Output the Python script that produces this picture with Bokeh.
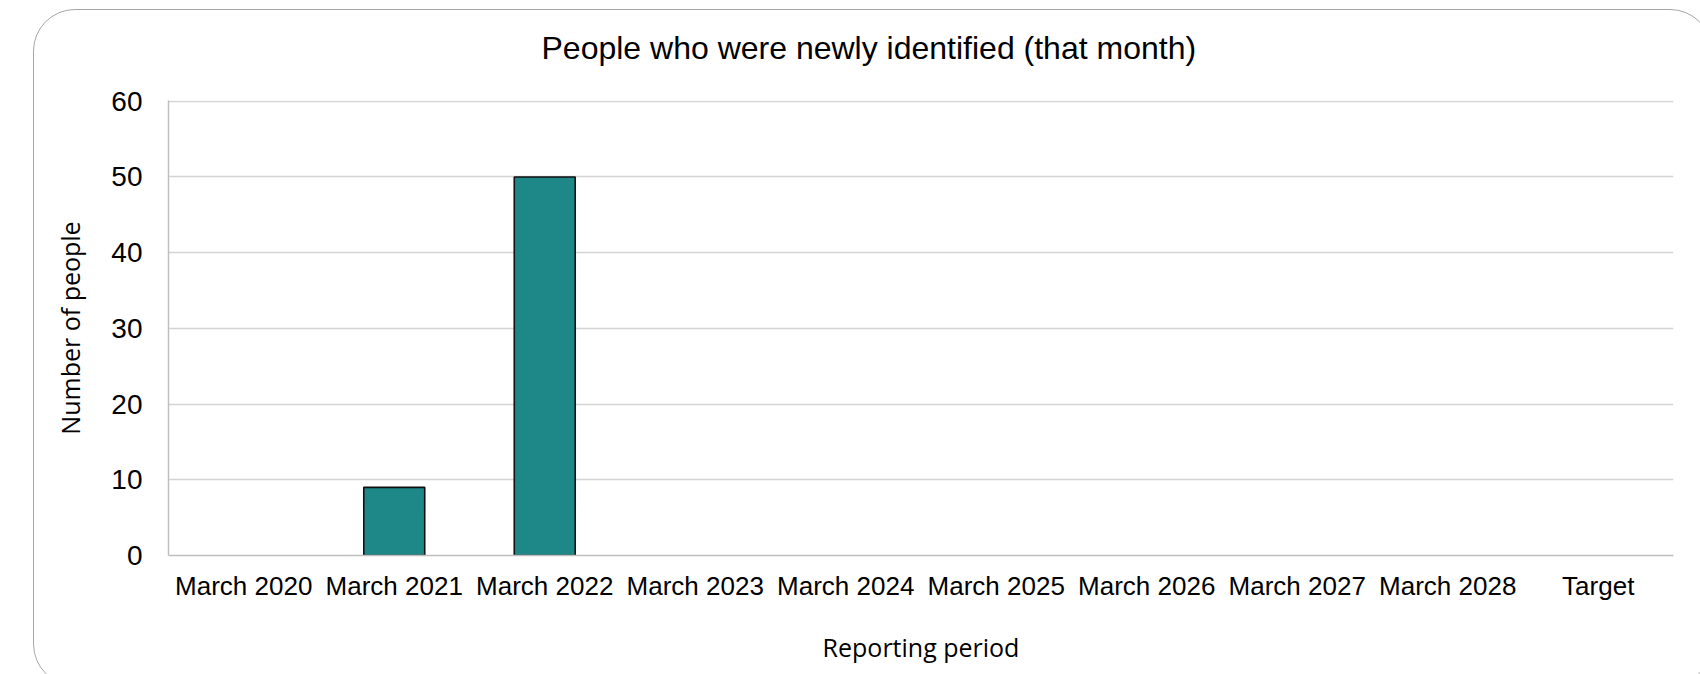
from bokeh.plotting import figure
from bokeh.models import Range1d, FactorRange, FixedTicker, Title, ColumnDataSource, InlineStyleSheet
from bokeh.embed import file_html
from bokeh.resources import INLINE

categories = ["March 2020", "March 2021", "March 2022", "March 2023", "March 2024",
              "March 2025", "March 2026", "March 2027", "March 2028", "Target"]
values = [float("nan"), 9, 50, float("nan"), float("nan"),
          float("nan"), float("nan"), float("nan"), float("nan"), float("nan")]
yticks = [0, 10, 20, 30, 40, 50, 60]
title_text = "People who were newly identified (that month)"
x_title = "Reporting period"
y_title = "Number of people"

BAR = "#1E8787"

p = figure(width=1667, height=665, x_range=FactorRange(*categories, range_padding=0),
           y_range=Range1d(0, 60.1), output_backend="svg", toolbar_location=None,
           min_border_left=135, min_border_right=27, min_border_top=91, min_border_bottom=119)
p.outline_line_color = None
p.background_fill_color = "white"
p.border_fill_color = "white"
p.styles = {"margin-left": "33px", "margin-top": "9px", "overflow": "hidden",
            "position": "relative"}
p.stylesheets = [InlineStyleSheet(css="""
:host::after {
  content: "";
  position: absolute;
  left: 0px;
  top: 0px;
  width: calc(100% + 12px);
  height: calc(100% + 12px);
  border: 1.5px solid #A6A6A6;
  border-radius: 42px;
  box-sizing: border-box;
  pointer-events: none;
  z-index: 10;
}
""")]

src = ColumnDataSource(dict(cat=categories, val=values))
p.vbar(x="cat", top="val", width=0.405, source=src, fill_color=BAR,
       line_color="#111111", line_width=1.6)

# axes
p.yaxis.ticker = FixedTicker(ticks=yticks)
p.yaxis.axis_line_color = "#BFBFBF"
p.yaxis.axis_line_width = 1.5
p.yaxis.major_tick_line_color = None
p.yaxis.minor_tick_line_color = None
p.yaxis.major_label_text_font = "Liberation Sans"
p.yaxis.major_label_text_font_size = "28px"
p.yaxis.major_label_text_color = "#000000"
p.yaxis.major_label_standoff = 20
p.yaxis.axis_label = y_title
p.yaxis.axis_label_text_font = "Open Sans"
p.yaxis.axis_label_text_font_size = "25px"
p.yaxis.axis_label_text_font_style = "normal"
p.yaxis.axis_label_text_color = "#000000"
p.yaxis.axis_label_standoff = 21

p.xaxis.axis_line_color = "#BFBFBF"
p.xaxis.axis_line_width = 1.5
p.xaxis.major_tick_line_color = None
p.xaxis.minor_tick_line_color = None
p.xaxis.major_label_text_font = "Liberation Sans"
p.xaxis.major_label_text_font_size = "26px"
p.xaxis.major_label_text_color = "#000000"
p.xaxis.major_label_standoff = 9
p.xaxis.axis_label = x_title
p.xaxis.axis_label_text_font = "Open Sans"
p.xaxis.axis_label_text_font_size = "25px"
p.xaxis.axis_label_text_font_style = "normal"
p.xaxis.axis_label_text_color = "#000000"
p.xaxis.axis_label_standoff = 26

p.xgrid.grid_line_color = None
p.ygrid.grid_line_color = "#D4D4D4"
p.ygrid.grid_line_width = 1.5

# spacer nearest the frame, then the chart heading above it
p.add_layout(Title(text=" ", text_font_size="1px", standoff=13), "above")
p.add_layout(Title(text=title_text, align="left", offset=373, standoff=34,
                   vertical_align="top",
                   text_font="Liberation Sans", text_font_size="32px",
                   text_font_style="normal", text_color="#000000"), "above")

open("out.html", "w").write(file_html(p, INLINE))
